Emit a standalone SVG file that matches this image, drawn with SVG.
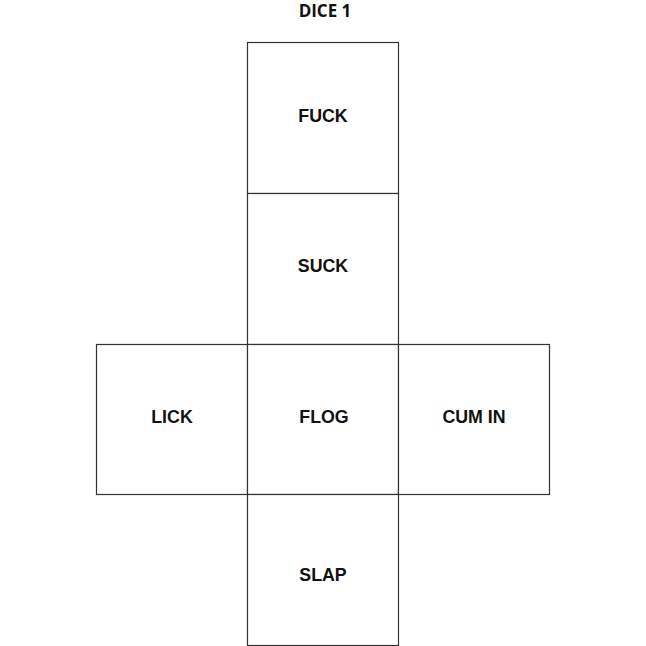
<svg xmlns="http://www.w3.org/2000/svg" width="646" height="646" viewBox="0 0 646 646">
<style>
.face{fill:#fff;stroke:#333;stroke-width:1.2}
.lbl{font-family:"Liberation Sans",Arial,sans-serif;font-weight:bold;font-size:17.8px;fill:#111;text-anchor:middle}
.title{font-family:"Open Sans","Liberation Sans",sans-serif;font-weight:bold;font-size:17px;fill:#111;text-anchor:middle}
</style>
<rect width="646" height="646" fill="#fff"/>
<text class="title" x="325" y="17">DICE 1</text>
<g id="fuck"><rect class="face" x="247.5" y="42.5" width="151" height="151"/><text class="lbl" x="323" y="122">FUCK</text></g>
<g id="suck"><rect class="face" x="247.5" y="193.5" width="151" height="151"/><text class="lbl" x="323" y="272">SUCK</text></g>
<g id="lick"><rect class="face" x="96.5" y="344.5" width="151" height="150"/><text class="lbl" x="172" y="423">LICK</text></g>
<g id="flog"><rect class="face" x="247.5" y="344.5" width="151" height="150"/><text class="lbl" x="324" y="423">FLOG</text></g>
<g id="cumin"><rect class="face" x="398.5" y="344.5" width="151" height="150"/><text class="lbl" x="474" y="423">CUM IN</text></g>
<g id="slap"><rect class="face" x="247.5" y="494.5" width="151" height="151"/><text class="lbl" x="323" y="581">SLAP</text></g>
<g id="connectors"></g>
</svg>
